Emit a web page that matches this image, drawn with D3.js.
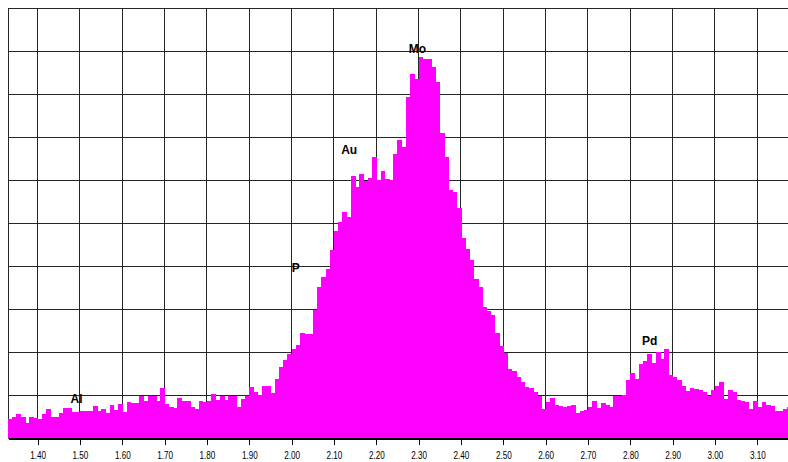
<!DOCTYPE html>
<html>
<head>
<meta charset="utf-8">
<script src="https://cdn.jsdelivr.net/npm/d3@7/dist/d3.min.js"></script>
<style>
  html, body { margin: 0; padding: 0; background: #ffffff; }
  svg { display: block; }
  .tick text { font-family: "Liberation Sans", Arial, sans-serif; }
  .peak { font-family: "Liberation Sans", Arial, sans-serif; font-weight: bold; font-size: 12px; fill: #000; }
</style>
</head>
<body>
<div id="chart"></div>
<script>
// EDS spectrum, 10 eV channels starting at 1.33 keV
const channelStart = 1.33;
const channelWidth = 0.01;
const counts = [
  45, 50, 57, 51, 36, 50, 47, 45, 57, 68,
  49, 49, 60, 71, 71, 61, 61, 64, 64, 64,
  76, 64, 68, 59, 78, 67, 80, 61, 84, 82,
  82, 98, 86, 99, 99, 88, 117, 80, 74, 71,
  95, 88, 88, 74, 68, 88, 84, 86, 103, 90,
  98, 90, 98, 98, 74, 91, 98, 119, 109, 101,
  121, 121, 105, 138, 166, 183, 197, 208, 218, 246,
  243, 243, 299, 352, 375, 394, 437, 483, 504, 525,
  515, 610, 584, 614, 597, 605, 653, 601, 622, 602,
  601, 661, 694, 677, 794, 846, 834, 886, 882, 882,
  864, 827, 710, 655, 577, 573, 535, 465, 440, 415,
  370, 352, 306, 297, 287, 245, 214, 198, 161, 156,
  143, 132, 119, 117, 109, 99, 68, 84, 94, 78,
  76, 74, 76, 78, 60, 65, 67, 74, 86, 71,
  82, 78, 74, 98, 99, 101, 136, 152, 138, 173,
  179, 197, 176, 201, 184, 208, 148, 143, 136, 121,
  111, 117, 115, 113, 109, 98, 113, 122, 132, 91,
  113, 107, 90, 88, 84, 68, 86, 73, 84, 78,
  76, 65, 65, 68, 73
];
const energies = d3.range(counts.length).map(i => channelStart + i * channelWidth);

// Axis tick labels (keV)
const tickValues = [1.40, 1.50, 1.60, 1.70, 1.80, 1.90, 2.00, 2.10, 2.20, 2.30,
                    2.40, 2.50, 2.60, 2.70, 2.80, 2.90, 3.00, 3.10];
const gridCounts = [0, 100, 200, 300, 400, 500, 600, 700, 800, 900, 1000];

// Element line labels
const peakNames = ["Al", "P", "Au", "Mo", "Pd"];
const peakEnergies = [1.492, 2.010, 2.136, 2.297, 2.846];
const peakCounts = [82, 387, 662, 895, 217];

const W = 788, H = 462;
const plotL = 8, plotR = 788, plotT = 8, plotB = 438.5;

const x = d3.scaleLinear().domain([1.33, 3.1725]).range([plotL, plotR]);
const y = d3.scaleLinear().domain([0, 1000]).range([plotB, plotT]);

const svg = d3.select("#chart").append("svg")
  .attr("width", W).attr("height", H);

svg.append("defs").append("clipPath").attr("id", "plot")
  .append("rect").attr("x", plotL).attr("y", plotT)
  .attr("width", plotR - plotL).attr("height", plotB - plotT);

// grid
const grid = svg.append("g").attr("shape-rendering", "crispEdges")
  .attr("stroke", "#262626").attr("stroke-width", 1);
grid.selectAll("line.v").data(tickValues).join("line")
  .attr("class", "v")
  .attr("x1", d => x(d)).attr("x2", d => x(d))
  .attr("y1", plotT).attr("y2", plotB);
grid.selectAll("line.h").data(gridCounts).join("line")
  .attr("class", "h")
  .attr("x1", plotL).attr("x2", plotR)
  .attr("y1", d => y(d)).attr("y2", d => y(d));
grid.append("line")
  .attr("x1", plotL).attr("x2", plotL)
  .attr("y1", plotT).attr("y2", plotB);

// spectrum channels
svg.append("g").attr("clip-path", "url(#plot)")
  .attr("shape-rendering", "crispEdges")
  .selectAll("rect").data(counts).join("rect")
  .attr("x", (d, i) => x(energies[i]))
  .attr("width", (d, i) => x(energies[i] + channelWidth) - x(energies[i]) + 0.6)
  .attr("y", d => y(d))
  .attr("height", d => plotB - y(d))
  .attr("fill", "#ff00ff");

// x axis
const axis = d3.axisBottom(x)
  .tickValues(tickValues)
  .tickFormat(d3.format(".2f"))
  .tickSize(6)
  .tickSizeOuter(0)
  .tickPadding(7);
const gx = svg.append("g")
  .attr("transform", `translate(0,${plotB})`)
  .call(axis);
gx.select(".domain").attr("stroke", "#000").attr("stroke-width", 1.2)
  .attr("shape-rendering", "crispEdges");
gx.selectAll(".tick line").attr("stroke", "#000").attr("shape-rendering", "crispEdges");
// condensed tick numerals
gx.selectAll(".tick text")
  .attr("fill", "#000")
  .attr("font-size", 11)
  .attr("transform", "scale(0.74,1)");

// peak labels
svg.append("g").selectAll("text").data(peakNames).join("text")
  .attr("class", "peak")
  .attr("x", (d, i) => x(peakEnergies[i]))
  .attr("y", (d, i) => y(peakCounts[i]))
  .attr("text-anchor", "middle")
  .text(d => d);
</script>
</body>
</html>
